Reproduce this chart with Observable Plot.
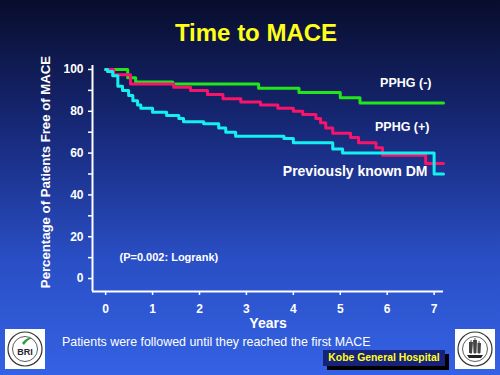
<!DOCTYPE html>
<html>
<head>
<meta charset="utf-8">
<script src="https://cdn.jsdelivr.net/npm/d3@7"></script>
<script src="https://cdn.jsdelivr.net/npm/@observablehq/plot@0.6"></script>
<style>
  html, body { margin: 0; padding: 0; }
  #page {
    position: relative; width: 500px; height: 375px; overflow: hidden;
    background: linear-gradient(to bottom, #080d2c 0%, #17297a 35%, #2a4fc6 70%, #3462e4 100%);
    font-family: "Liberation Sans", Arial, sans-serif;
  }
  #title {
    position: absolute; left: 0; width: 512px; top: 19px; text-align: center;
    color: #ffff1a; font-weight: bold; font-size: 24px;
  }
  #ytitle {
    position: absolute; left: 45px; top: 171.5px; white-space: nowrap;
    transform: translate(-50%, -50%) rotate(-90deg);
    color: white; font-weight: bold; font-size: 13.2px; line-height: 15px;
  }
  #chart { position: absolute; left: 0; top: 55px; }
  #note {
    position: absolute; left: 62px; top: 335px; color: white; font-size: 12.4px;
  }
  #kobe {
    position: absolute; left: 323px; top: 350px; width: 122px; height: 16px;
    background: #16227c; box-shadow: 4px 4px 0 #000; color: #ffff1a;
    font-weight: bold; font-size: 10.4px; line-height: 16px; text-align: center;
  }
  .logo { position: absolute; top: 329px; width: 40px; height: 40px; }
</style>
</head>
<body>
<div id="page">
  <div id="title">Time to MACE</div>
  <div id="chart"></div>
  <div id="ytitle"></div>
  <svg class="logo" style="left:5px" viewBox="0 0 40 40">
    <rect width="40" height="40" fill="white"/>
    <circle cx="20" cy="20" r="17" fill="none" stroke="#333" stroke-width="1.2"/>
    <circle cx="20" cy="20" r="12.5" fill="none" stroke="#333" stroke-width="0.8"/>
    <path d="M17 14 Q22 8 27 9 Q22 11 19 16 Z" fill="#2a9a3a"/>
    <text x="20" y="26" text-anchor="middle" font-family="Liberation Sans, Arial" font-weight="bold" font-size="9" fill="#223">BRI</text>
  </svg>
  <svg class="logo" style="left:455px" viewBox="0 0 40 40">
    <rect width="40" height="40" fill="white"/>
    <circle cx="20" cy="20" r="17" fill="none" stroke="#333" stroke-width="1.2"/>
    <circle cx="20" cy="20" r="12.5" fill="none" stroke="#333" stroke-width="0.8"/>
    <path d="M12 26 L28 26 L26 29 L14 29 Z" fill="#222"/>
    <path d="M16 25 L16 11 M20 25 L20 9 M24 25 L24 12" stroke="#222" stroke-width="0.8"/>
    <path d="M14 13 L18 13 L17 24 L14 24 Z M18 11 L22 11 L21.5 24 L18.5 24 Z M22.5 14 L26 14 L25.5 24 L22.5 24 Z" fill="#444"/>
  </svg>
  <div id="note">Patients were followed until they reached the first MACE</div>
  <div id="kobe">Kobe General Hospital</div>
</div>
<script>
// ---- data ----
const seriesNames = ["PPHG (-)", "PPHG (+)", "Previously known DM"];

const pphgNegYears = [0, 0.47, 0.64, 1.43, 3.26, 4.12, 5.0, 5.42, 7.2];
const pphgNegFree  = [100, 96, 94, 93, 91, 89, 86.5, 84, 84];

const pphgPosYears = [0, 0.17, 0.53, 1.45, 1.81, 2.17, 2.5, 2.88, 3.3, 3.67, 4.0, 4.2, 4.48, 4.58, 4.69, 4.84, 5.22, 5.39, 5.76, 5.9, 6.82, 7.2];
const pphgPosFree  = [100, 97.5, 93, 91.5, 90, 88, 86, 84.5, 83, 81.5, 80, 78.5, 76.5, 74.5, 72, 69.5, 67.5, 65, 62.5, 59, 55, 55];

const dmYears = [0, 0.04, 0.15, 0.26, 0.36, 0.49, 0.58, 0.68, 0.75, 1.0, 1.3, 1.56, 1.66, 2.09, 2.41, 2.56, 2.77, 3.8, 4.0, 4.84, 5.05, 7.0, 7.2];
const dmFree  = [100, 99, 97, 92, 90, 87.5, 85, 83, 81.5, 79.5, 78, 76.5, 75, 74, 72, 70, 68, 67, 65, 62, 60, 50, 50];

const xTicks = [0, 1, 2, 3, 4, 5, 6, 7];
const yTicks = [0, 20, 40, 60, 80, 100];
const yMinorTicks = [10, 30, 50, 70, 90];
const xTitle = "Years";
const yTitle = "Percentage of Patients Free of MACE";
const pText = "(P=0.002: Logrank)";

document.getElementById("ytitle").textContent = yTitle;

// ---- table built from the arrays ----
const toRows = (name, ts, vs) => ts.map((t, i) => ({series: name, t, v: vs[i]}));
const neg = toRows(seriesNames[0], pphgNegYears, pphgNegFree);
const pos = toRows(seriesNames[1], pphgPosYears, pphgPosFree);
const dm  = toRows(seriesNames[2], dmYears, dmFree);

const xDomain = [-0.28, 7.2];
const yDomain = [-6.2, 101.9];
const font = "Liberation Sans, Arial, sans-serif";
const green = "#22e61a", pink = "#f7146a", cyan = "#14f0f0";

const lbl = (rows, dx, dy, size) => Plot.text(rows, Plot.selectLast({
  x: "t", y: "v", text: "series", dx, dy, textAnchor: "end", lineAnchor: "middle",
  fill: "white", fontWeight: "bold", fontSize: size
}));

const chart = Plot.plot({
  width: 500, height: 280,
  marginLeft: 92, marginRight: 57, marginTop: 10, marginBottom: 44,
  style: {background: "transparent", color: "white", fontFamily: font, overflow: "visible"},
  x: {domain: xDomain},
  y: {domain: yDomain},
  marks: [
    Plot.axisY({ticks: yTicks, tickSize: 4, tickPadding: 5, fontSize: 12, fontWeight: "bold", label: null, strokeWidth: 1.5}),
    Plot.axisY({ticks: yMinorTicks, tickSize: 4, tickFormat: () => "", label: null, strokeWidth: 1.5}),
    Plot.axisX({ticks: xTicks, tickSize: 4, tickPadding: 9, fontSize: 12, fontWeight: "bold", label: null, strokeWidth: 1.5}),
    Plot.ruleX([xDomain[0]], {stroke: "white", strokeWidth: 2}),
    Plot.ruleY([yDomain[0]], {stroke: "white", strokeWidth: 2}),
    Plot.line(neg, {x: "t", y: "v", curve: "step-after", stroke: green, strokeWidth: 3}),
    Plot.line(pos, {x: "t", y: "v", curve: "step-after", stroke: pink, strokeWidth: 3}),
    Plot.line(dm,  {x: "t", y: "v", curve: "step-after", stroke: cyan, strokeWidth: 3}),
    lbl(neg, -12, -20, 12.5),
    lbl(pos, -14, -37, 12.5),
    lbl(dm, -16, -2, 14),
    Plot.text([pText], {frameAnchor: "bottom-left", dx: 27, dy: -34, textAnchor: "start", lineAnchor: "middle", fill: "white", fontWeight: "bold", fontSize: 11}),
    Plot.text([xTitle], {frameAnchor: "bottom", dy: 32, lineAnchor: "middle", fill: "white", fontWeight: "bold", fontSize: 14})
  ]
});
document.getElementById("chart").appendChild(chart);
</script>
</body>
</html>
